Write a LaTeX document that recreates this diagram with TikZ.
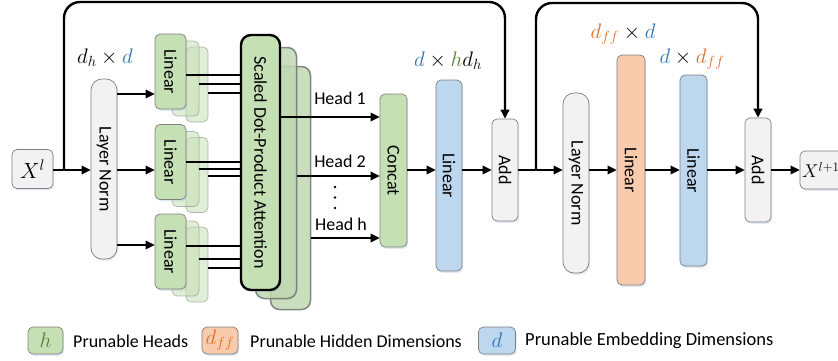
\RequirePackage{fix-cm}
\documentclass[tikz,border=0pt]{standalone}
\usepackage{fontspec}
\setmainfont{Carlito}
\usetikzlibrary{arrows.meta,shadows}

\definecolor{grnF}{HTML}{C5E0B4}
\definecolor{bluF}{HTML}{BDD7EE}
\definecolor{orgF}{HTML}{F8CBAD}
\definecolor{gryF}{HTML}{F2F2F2}
\definecolor{bordC}{HTML}{7F7F7F}
\definecolor{shadC}{HTML}{9DB9DA}
\definecolor{bluT}{HTML}{2E75B6}
\definecolor{grnT}{HTML}{548235}
\definecolor{orgT}{HTML}{E06E26}

\newcommand\vlabel[1]{\rotatebox{-90}{#1}}

\begin{document}
\begin{tikzpicture}[x=1pt,y=-1pt,
  box/.style={draw=bordC, line width=0.7pt, rounded corners=5pt, inner sep=0pt,
    font=\fontsize{18}{20}\selectfont,
    drop shadow={shadow xshift=1.2pt, shadow yshift=-1.8pt, opacity=0.3, fill=shadC}},
  ghost/.style={draw=bordC, draw opacity=0.55, fill=grnF, fill opacity=0.55,
    line width=0.7pt, rounded corners=5pt, inner sep=0pt},
  sdghost/.style={draw=gray!85!black, draw opacity=0.8, fill=grnF!92!gray, fill opacity=0.85,
    line width=1.5pt, rounded corners=9pt, inner sep=0pt},
  lbl/.style={inner sep=0pt, font=\fontsize{18}{20}\selectfont},
  mth/.style={inner sep=0pt, font=\fontsize{21}{24}\selectfont},
  dot/.style={circle, fill=black, inner sep=0pt, minimum size=2.6pt},
  arr/.style={line width=1.8pt, -{Triangle[length=9pt,width=8.5pt]}},
  wire/.style={line width=1.4pt},
  skip/.style={line width=2.4pt, rounded corners=16pt, -{Triangle[length=9pt,width=8.5pt]}}
]
\useasboundingbox (0,0) rectangle (838,360);

% ---------- input and first layer norm ----------
\node[box, fill=gryF, minimum width=41pt, minimum height=39pt, font=\fontsize{22}{24}\selectfont] (xin) at (32.5,169) {$X^{l}$};
\node[box, fill=gryF, rounded corners=11pt, minimum width=26pt, minimum height=180pt] (ln1) at (104,169) {\vlabel{Layer Norm}};
\node[mth] (dimA) at (105,58) {$d_h \times {\color{bluT}d}$};

\coordinate (s1) at (64,170);
\draw[arr] (xin.east |- s1) -- (ln1.west |- s1);

% ---------- Q / K / V projections (stacked per head) ----------
\node[ghost, minimum width=22pt, minimum height=75pt] (q3) at (197,84.5) {};
\node[ghost, minimum width=27pt, minimum height=75pt] (q2) at (185.5,78.5) {};
\node[box, fill=grnF, minimum width=31pt, minimum height=75pt] (q1) at (170.5,71.5) {\vlabel{Linear}};

\node[ghost, minimum width=22pt, minimum height=75pt] (k3) at (197,175) {};
\node[ghost, minimum width=27pt, minimum height=75pt] (k2) at (185.5,169) {};
\node[box, fill=grnF, minimum width=31pt, minimum height=75pt] (k1) at (170.5,162) {\vlabel{Linear}};

\node[ghost, minimum width=22pt, minimum height=75pt] (v3) at (197,264.5) {};
\node[ghost, minimum width=27pt, minimum height=75pt] (v2) at (185.5,258.5) {};
\node[box, fill=grnF, minimum width=31pt, minimum height=75pt] (v1) at (170.5,251.5) {\vlabel{Linear}};

\draw[arr] (ln1.east |- 0,94) -- (q1.west |- 0,94);
\draw[arr] (ln1.east |- 0,170) -- (k1.west |- 0,170);
\draw[arr] (ln1.east |- 0,245) -- (v1.west |- 0,245);

% ---------- attention blocks ----------
\node[sdghost, minimum width=40pt, minimum height=243pt] (sd3) at (290.5,188) {};
\node[sdghost, minimum width=41pt, minimum height=251pt] (sd2) at (276,173) {};
\node[box, fill=grnF, draw=black, line width=2.4pt, rounded corners=10pt,
      minimum width=39pt, minimum height=255pt] (sd1) at (260.5,162.5) {\vlabel{Scaled Dot-Product Attention}};

% wires from projections into attention
\draw[wire] (q1.east |- 0,75) -- (sd1.west |- 0,75);
\draw[wire] (q2.east |- 0,84) -- (sd1.west |- 0,84);
\draw[wire] (q3.east |- 0,93) -- (sd1.west |- 0,93);
\draw[wire] (k1.east |- 0,162) -- (sd1.west |- 0,162);
\draw[wire] (k2.east |- 0,169) -- (sd1.west |- 0,169);
\draw[wire] (k3.east |- 0,176) -- (sd1.west |- 0,176);
\draw[wire] (v1.east |- 0,246) -- (sd1.west |- 0,246);
\draw[wire] (v2.east |- 0,259) -- (sd1.west |- 0,259);
\draw[wire] (v3.east |- 0,268) -- (sd1.west |- 0,268);

% ---------- heads and concat ----------
\node[box, fill=grnF, minimum width=27pt, minimum height=153pt] (cat) at (393.5,170.5) {\vlabel{Concat}};

\draw[arr] (sd1.east |- 0,117) -- (cat.west |- 0,117);
\draw[arr] (sd2.east |- 0,176) -- (cat.west |- 0,176);
\draw[arr] (sd3.east |- 0,238) -- (cat.west |- 0,238);
\node[lbl] (h1) at (340,98) {Head 1};
\node[lbl] (h2) at (340,161) {Head 2};
\node[lbl] (hh) at (341,224) {Head h};
\node[dot] (dt1) at (335,187) {};
\node[dot] (dt2) at (335,197.5) {};
\node[dot] (dt3) at (335,208) {};

% ---------- output projection and first residual ----------
\node[box, fill=bluF, minimum width=26pt, minimum height=191pt] (lo) at (449,175.5) {\vlabel{Linear}};
\node[mth] (dimB) at (448,61) {${\color{bluT}d} \times {\color{grnT}h} d_h$};
\node[box, fill=gryF, minimum width=26pt, minimum height=102pt] (add1) at (505,170) {\vlabel{Add}};

\draw[arr] (cat.east |- 0,170) -- (lo.west |- 0,170);
\draw[arr] (lo.east |- 0,170) -- (add1.west |- 0,170);
\draw[skip] (s1) -- (s1 |- 0,2) -- (add1.north |- 0,2) -- (add1.north);

% ---------- feed-forward block ----------
\node[box, fill=gryF, rounded corners=11pt, minimum width=26pt, minimum height=180pt] (ln2) at (576,183) {\vlabel{Layer Norm}};
\node[box, fill=orgF, minimum width=28pt, minimum height=230pt] (f1) at (631,170) {\vlabel{Linear}};
\node[mth] (dimC) at (623,34) {${\color{orgT}d_{ff}} \times {\color{bluT}d}$};
\node[box, fill=bluF, minimum width=27pt, minimum height=191pt] (f2) at (693.5,170.5) {\vlabel{Linear}};
\node[mth] (dimD) at (692,59) {${\color{bluT}d} \times {\color{orgT}d_{ff}}$};
\node[box, fill=gryF, minimum width=26pt, minimum height=104pt] (add2) at (758,170) {\vlabel{Add}};
\node[box, fill=gryF, minimum width=50pt, minimum height=38pt] (xout) at (825,170) {};
\node[inner sep=0pt, anchor=west, font=\fontsize{18.5}{20}\selectfont] (xoutt) at (802,170) {$X^{l+1}$};

\coordinate (s2) at (536,170);
\draw[arr] (add1.east |- 0,170) -- (ln2.west |- 0,170);
\draw[arr] (ln2.east |- 0,170) -- (f1.west |- 0,170);
\draw[arr] (f1.east |- 0,170) -- (f2.west |- 0,170);
\draw[arr] (f2.east |- 0,170) -- (add2.west |- 0,170);
\draw[arr] (add2.east |- 0,170) -- (xout.west |- 0,170);
\draw[skip] (s2) -- (s2 |- 0,3) -- (add2.north |- 0,3) -- (add2.north);

% ---------- legend ----------
\node[box, fill=grnF, minimum width=35pt, minimum height=27pt, font=\fontsize{21}{24}\selectfont] (lgH) at (45.5,340.5) {${\color{grnT}h}$};
\node[lbl, anchor=west] (lgHt) at (73,341) {Prunable Heads};
\node[box, fill=orgF, minimum width=36pt, minimum height=27pt, font=\fontsize{21}{24}\selectfont] (lgF) at (220,340.5) {${\color{orgT}d_{ff}}$};
\node[lbl, anchor=west] (lgFt) at (250,341) {Prunable Hidden Dimensions};
\node[box, fill=bluF, minimum width=37pt, minimum height=27pt, font=\fontsize{21}{24}\selectfont] (lgD) at (497,340.5) {${\color{bluT}d}$};
\node[lbl, anchor=west, font=\fontsize{18.5}{20}\selectfont] (lgDt) at (525,341) {Prunable Embedding Dimensions};
\end{tikzpicture}
\end{document}
